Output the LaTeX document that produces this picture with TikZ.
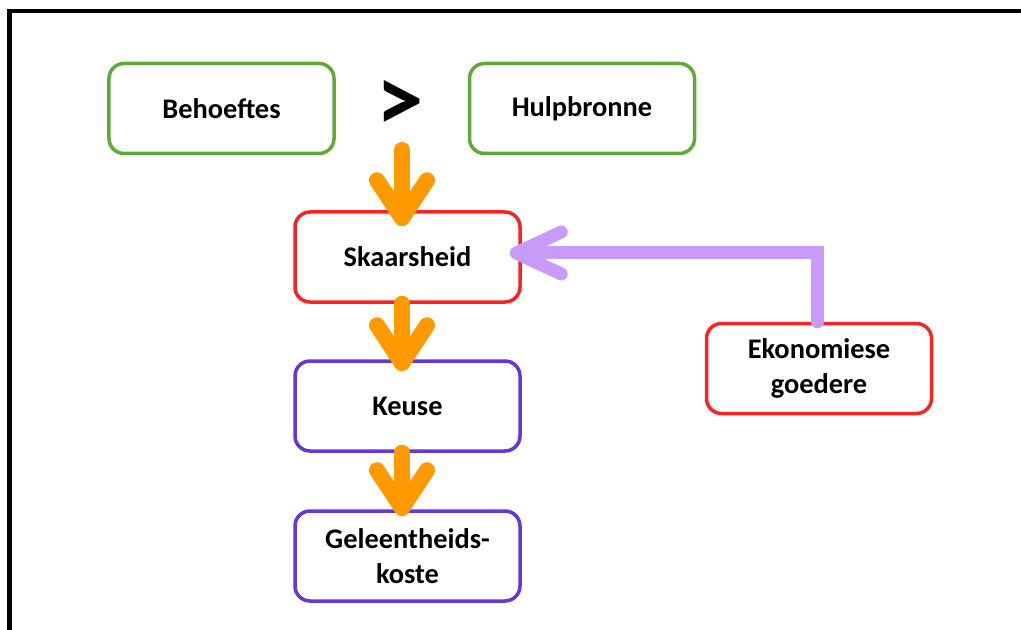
\documentclass[tikz,border=0pt]{standalone}
\usepackage{fontspec}
\setmainfont{Carlito}
\usetikzlibrary{arrows.meta}
\definecolor{grn}{RGB}{95,170,55}
\definecolor{rd}{RGB}{250,35,35}
\definecolor{blu}{RGB}{100,55,220}
\definecolor{org}{RGB}{255,153,0}
\definecolor{lil}{RGB}{200,155,248}
\begin{document}
\begin{tikzpicture}[x=1bp,y=-1bp,
  box/.style={draw, line width=3.5bp, rounded corners=15bp, fill=white,
    minimum width=225bp, minimum height=90bp, inner sep=0pt, align=center,
    font=\fontsize{28.5}{35}\selectfont\bfseries},
  orarrow/.style={draw=org, line width=16bp, line cap=round,
    -{Straight Barb[round,length=38bp,width=50bp]}},
  liarrow/.style={draw=lil, line width=13bp, line cap=round,
    -{Straight Barb[round,length=45bp,width=42bp]}}]
\useasboundingbox (0,0) rectangle (1021,630);
% frame
\draw[line width=4.5bp] (9.5,630) -- (9.5,11) -- (1021,11);
% nodes
\node[box, draw=grn] (beh) at (221.5,108.5) {Behoeftes};
\node[box, draw=grn] (hulp) at (582,108.5) {Hulpbronne};
\node[font=\fontsize{95}{95}\selectfont\bfseries, inner sep=0pt] (gt) at (400,106) {>};
\coordinate (a0) at (402,150);
\node[box, draw=rd] (skaars) at (407.5,257) {Skaarsheid};
\node[box, draw=blu] (keuse) at (407.5,406) {Keuse};
\node[box, draw=blu] (gel) at (407.5,556) {Geleentheids-\\koste};
\node[box, draw=rd] (eko) at (819,368.5) {Ekonomiese\\goedere};
% connectors
\draw[orarrow, shorten >=-16bp] (a0) -- (a0 |- skaars.north);
\draw[orarrow, shorten >=-12bp] (skaars.south -| a0) -- (keuse.north -| a0);
\draw[orarrow, shorten >=-7bp] (keuse.south -| a0) -- (gel.north -| a0);
\draw[liarrow, shorten >=-12bp] ([xshift=-2bp]eko.north) |- ([yshift=4bp]skaars.east);
\end{tikzpicture}
\end{document}
